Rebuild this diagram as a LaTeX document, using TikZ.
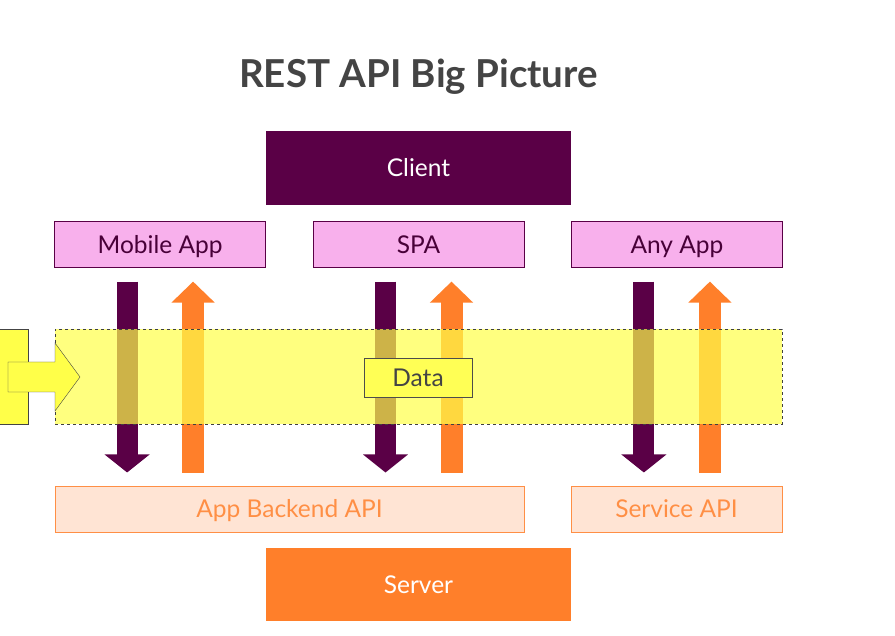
\documentclass[tikz,border=0pt]{standalone}
\usepackage{fontspec}
\setmainfont{Lato}
\usepackage{tikz}
\usetikzlibrary{positioning,arrows.meta}

\definecolor{plum}{HTML}{5A0046}
\definecolor{pinkapp}{HTML}{F8B0EC}
\definecolor{orng}{HTML}{FF7F2A}
\definecolor{orngline}{HTML}{FF8F45}
\definecolor{peach}{HTML}{FFE4D4}
\definecolor{yel}{HTML}{FFFF49}
\definecolor{yelbox}{HTML}{FFFF55}
\definecolor{inkgray}{HTML}{444444}

\begin{document}
\begin{tikzpicture}[
  x=1pt, y=-1pt,
  font=\fontsize{24.5}{28}\selectfont,
  node distance=16pt and 47pt,
  txt/.style={text height=17.5pt, text depth=0pt},
  side/.style={rectangle, txt, inner sep=0pt, minimum width=305pt, minimum height=74pt,
               text=white},
  app/.style={draw=plum, fill=pinkapp, text=plum!80!black, txt, inner sep=0pt,
              minimum width=211pt, minimum height=46pt},
  api/.style={draw=orngline, line width=1pt, fill=peach, text=orngline, txt,
              inner sep=0pt, minimum height=46pt},
  dn/.style={line width=21pt, plum, shorten <=14pt, shorten >=13pt,
             -{Triangle[width=44pt, length=18pt]}},
  up/.style={line width=22pt, orng, shorten <=13pt, shorten >=14pt,
             -{Triangle[width=42pt, length=21pt]}},
  band/.style={draw=black!75, dashed, fill=yel, fill opacity=0.7, inner sep=0pt,
               minimum width=727pt, minimum height=95pt}
]
\useasboundingbox[fill=white] (0,0) rectangle (895,636);

% ---- title ----
\node[font=\fontsize{38.5}{42}\selectfont\bfseries, text=inkgray] (title) at (418.5,77) {REST API Big Picture};

% ---- client side ----
\node[side, fill=plum] (client) at (418.5,168) {Client};
\node[app, below=16pt of client] (spa) {SPA};
\node[app, left=47pt of spa]  (mobile) {Mobile App};
\node[app, right=47pt of spa] (anyapp) {Any App};

% ---- server side ----
\node[api, minimum width=469pt] (backend) at (289.5,509) {App Backend API};
\node[api, minimum width=211pt] (service) at (676.5,509) {Service API};
\node[side, fill=orng, minimum height=73pt] (server) at (418.5,584.5) {Server};

% ---- requests / responses ----
\draw[dn] ([xshift=-33pt]mobile.south) -- ([xshift=-33pt]mobile.south |- backend.north);
\draw[up] ([xshift=33pt]mobile.south |- backend.north) -- ([xshift=33pt]mobile.south);
\draw[dn] ([xshift=-33pt]spa.south) -- ([xshift=-33pt]spa.south |- backend.north);
\draw[up] ([xshift=33pt]spa.south |- backend.north) -- ([xshift=33pt]spa.south);
\draw[dn] ([xshift=-33pt]anyapp.south) -- ([xshift=-33pt]anyapp.south |- service.north);
\draw[up] ([xshift=33pt]anyapp.south |- service.north) -- ([xshift=33pt]anyapp.south);

% ---- data layer ----
\node[band] (layer) at (418.5,376.5) {};
\node[draw=black!70, fill=yelbox, text=inkgray, txt, inner sep=0pt,
      minimum width=108pt, minimum height=39pt] (data) at (418,377.5) {Data};
\node[draw=inkgray, fill=yel, inner sep=0pt, minimum width=30pt,
      minimum height=95pt] (src) at (13,376.5) {};
\coordinate (flow) at (8,377);
\draw[draw=inkgray, fill=yel] (flow) ++(0,-15) -- ++(47,0) -- ++(0,-19) -- ++(25,34)
  -- ++(-25,34) -- ++(0,-19) -- ++(-47,0) -- cycle;
\end{tikzpicture}
\end{document}
